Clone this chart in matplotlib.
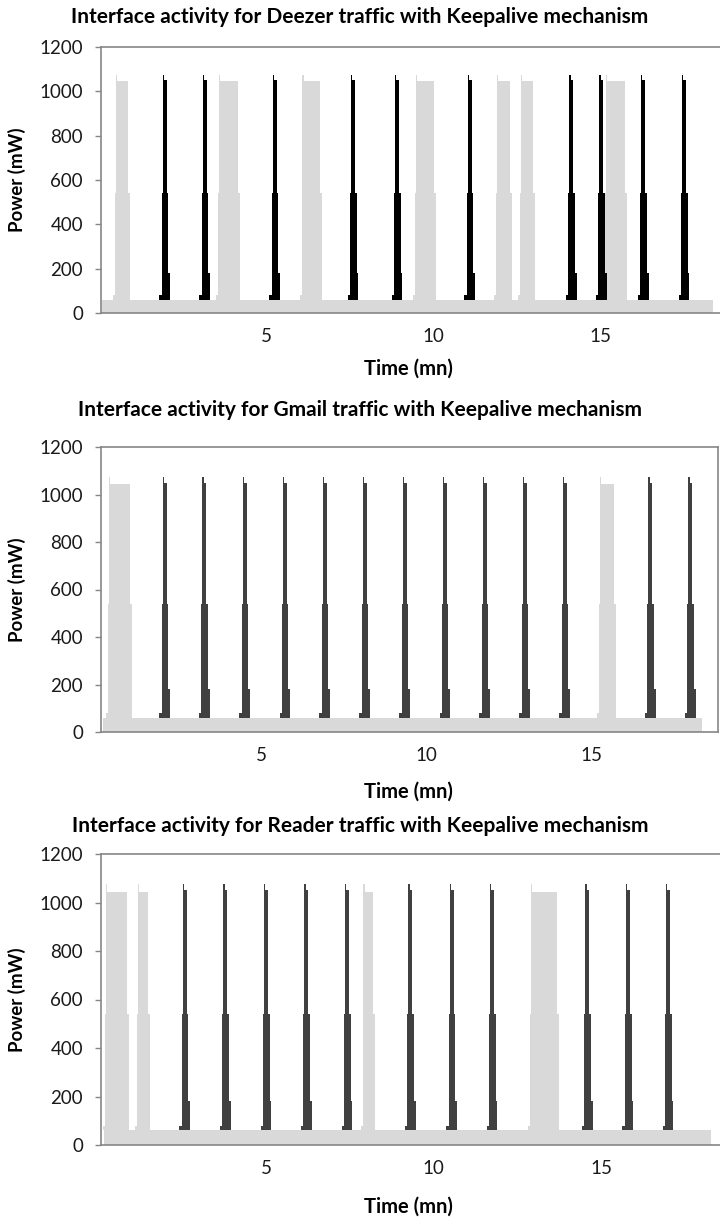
import matplotlib.pyplot as plt
import numpy as np

plt.rcParams['font.family'] = ['Lato', 'DejaVu Sans']

W, H = 720, 1219

# shape of one data burst (gray) and one keepalive spike (black)
burst_dt_start = [-0.06, 0.0, 0.02, 0.06]
burst_pw_start = [80, 540, 1075, 1045]
burst_dt_end = [-0.05, 0.0]
burst_pw_end = [540, 60]
spike_dt = [-0.07, 0.0, 0.03, 0.07, 0.15, 0.20, 0.25]
spike_pw = [80, 540, 1075, 1050, 540, 180, 60]
idle_pw = 60

titles = ["Interface activity for Deezer traffic with Keepalive mechanism",
          "Interface activity for Gmail traffic with Keepalive mechanism",
          "Interface activity for Reader traffic with Keepalive mechanism"]

# Deezer
deezer_burst_start = [0.48, 3.57, 6.07, 9.46, 11.89, 12.60, 15.15]
deezer_burst_end = [0.93, 4.22, 6.67, 10.09, 12.36, 13.05, 15.80]
deezer_spikes = [1.88, 3.07, 5.17, 7.51, 8.83, 11.01, 14.05, 14.95, 16.20, 17.42]
deezer_span = [0.10, 18.38]

# Gmail
gmail_burst_start = [0.37, 15.24]
gmail_burst_end = [1.08, 15.76]
gmail_spikes = [1.99, 3.19, 4.41, 5.63, 6.84, 8.05, 9.26, 10.48, 11.69, 12.90, 14.11, 16.71, 17.92]
gmail_span = [0.21, 18.35]

# Reader
reader_burst_start = [0.19, 1.15, 7.88, 12.87]
reader_burst_end = [0.91, 1.53, 8.25, 13.74]
reader_spikes = [2.48, 3.69, 4.90, 6.11, 7.32, 9.21, 10.44, 11.65, 14.49, 15.70, 16.90]
reader_span = [0.16, 18.28]

panels = [
    dict(starts=deezer_burst_start, ends=deezer_burst_end, spikes=deezer_spikes, span=deezer_span,
         box=(101, 47, 722, 313), xlim=(0.06, 18.65), spike_col='#000000', right=False,
         title_y=17, xlab_y=369),
    dict(starts=gmail_burst_start, ends=gmail_burst_end, spikes=gmail_spikes, span=gmail_span,
         box=(101, 447, 718, 732), xlim=(0.15, 18.85), spike_col='#404040', right=True,
         title_y=410, xlab_y=792),
    dict(starts=reader_burst_start, ends=reader_burst_end, spikes=reader_spikes, span=reader_span,
         box=(101, 854, 722, 1145), xlim=(0.07, 18.6), spike_col='#404040', right=False,
         title_y=826, xlab_y=1207),
]

fig = plt.figure(figsize=(W / 100, H / 100), dpi=100)

for i, p in enumerate(panels):
    l, t, r, b = p['box']
    ax = fig.add_axes([l / W, 1 - b / H, (r - l) / W, (b - t) / H])

    # gray trace: idle level plus data bursts
    ts = [p['span'][0]]
    ps = [idle_pw]
    for s, e in zip(p['starts'], p['ends']):
        ts += [s + d for d in burst_dt_start] + [e + d for d in burst_dt_end]
        ps += burst_pw_start + burst_pw_end
    ts += [p['span'][1]]
    ps += [0]
    ax.fill_between(ts, ps, step='post', color='#d9d9d9', lw=0)

    # keepalive spikes
    for s in p['spikes']:
        st = [s + d for d in spike_dt]
        ax.fill_between(st, spike_pw, idle_pw, step='post', color=p['spike_col'], lw=0)

    ax.set_xlim(*p['xlim'])
    ax.set_ylim(0, 1200)
    ax.set_yticks(np.arange(0, 1201, 200))
    ax.set_xticks([5, 10, 15])
    ax.tick_params(axis='y', direction='out', length=4, width=1, color='#868686',
                   labelsize=13.5, pad=9, labelcolor='#1a1a1a')
    ax.tick_params(axis='x', length=0, labelsize=13.5, pad=11, labelcolor='#1a1a1a')
    for sp in ax.spines.values():
        sp.set_color('#868686')
        sp.set_linewidth(1.2)
    ax.spines['right'].set_visible(p['right'])
    ax.set_ylabel('Power (mW)', fontsize=13.5, fontweight='bold')
    ax.yaxis.set_label_coords((26 - l) / (r - l), 0.5)

    fig.text(0.5, 1 - p['title_y'] / H, titles[i], ha='center', va='center',
             fontsize=15, fontweight='bold')
    fig.text(408 / W, 1 - p['xlab_y'] / H, 'Time (mn)', ha='center', va='center',
             fontsize=14.5, fontweight='bold')

fig.savefig('out.png', dpi=100)
